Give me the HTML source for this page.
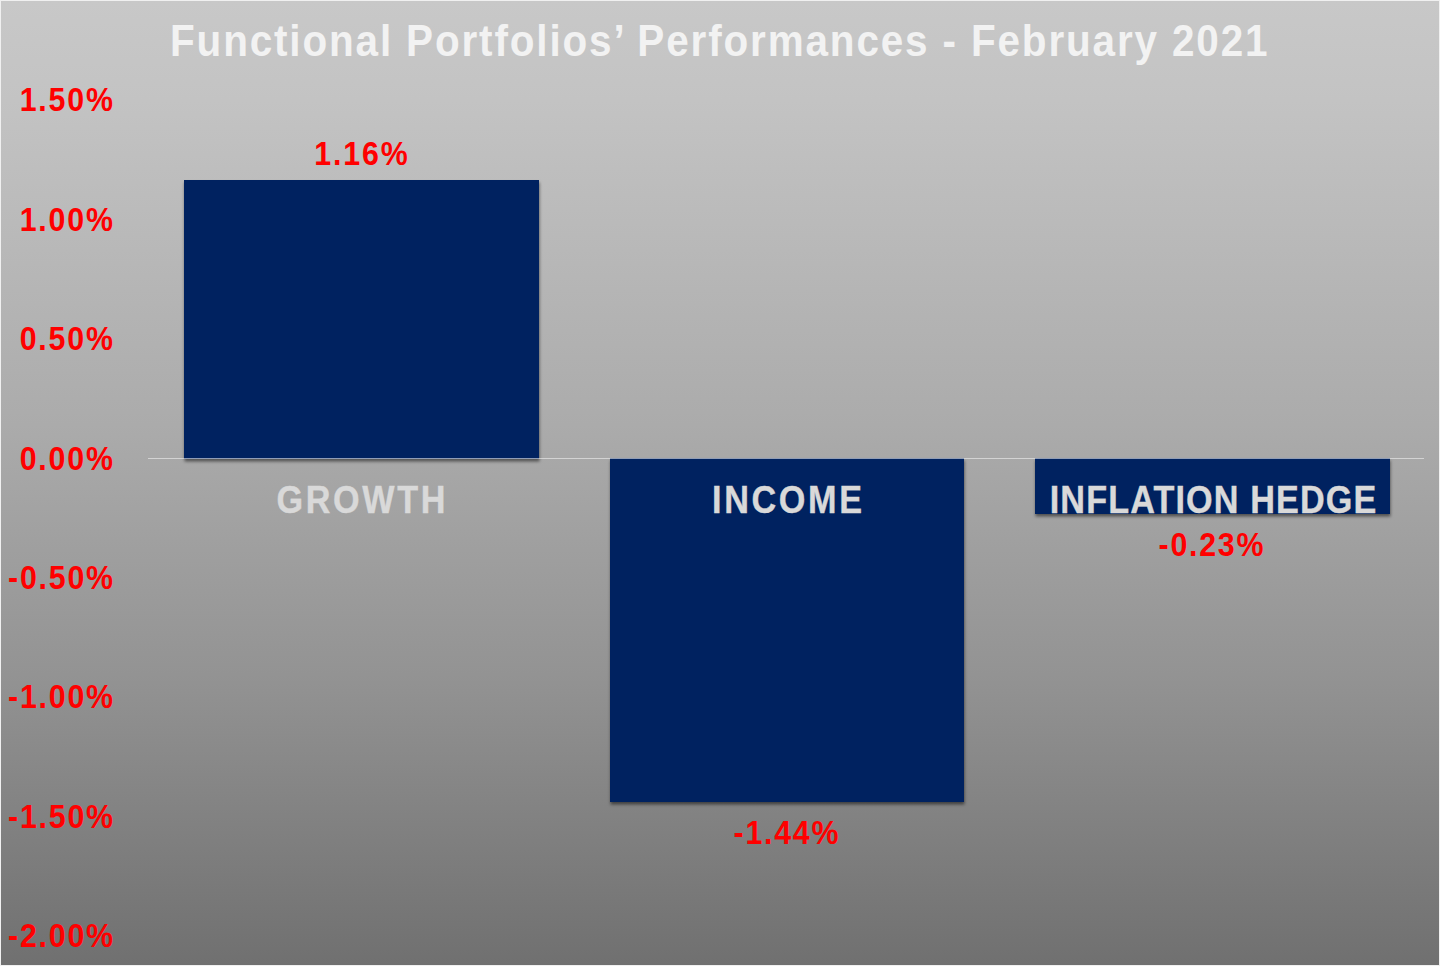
<!DOCTYPE html>
<html>
<head>
<meta charset="utf-8">
<style>
html,body{margin:0;padding:0;background:#ffffff;}
body{width:1440px;height:966px;overflow:hidden;}
svg{display:block;}
text{font-family:"Liberation Sans",sans-serif;font-weight:bold;}
</style>
</head>
<body>
<svg width="1440" height="966" viewBox="0 0 1440 966">
<defs>
<linearGradient id="bg" x1="0" y1="0" x2="0" y2="1">
<stop offset="0" stop-color="#c8c8c8"/>
<stop offset="0.1035" stop-color="#c3c3c3"/>
<stop offset="0.44" stop-color="#ababab"/>
<stop offset="0.699" stop-color="#939393"/>
<stop offset="0.9576" stop-color="#757575"/>
<stop offset="1" stop-color="#707070"/>
</linearGradient>
<filter id="sh" x="-10%" y="-10%" width="130%" height="130%">
<feDropShadow dx="0.5" dy="2.5" stdDeviation="1.5" flood-color="#000" flood-opacity="0.5"/>
</filter>
</defs>
<rect x="0" y="0" width="1440" height="966" fill="#f0f0f0"/>
<rect x="1" y="1" width="1438" height="964" fill="url(#bg)"/>

<!-- title -->
<text transform="translate(170,56) scale(0.92,1)" x="0" y="0" font-size="44" fill="#f2f2f2" textLength="1193" lengthAdjust="spacing">Functional Portfolios’ Performances - February 2021</text>

<!-- y axis labels -->
<g fill="#ff0000" font-size="33" text-anchor="end">
<text transform="translate(113,111) scale(0.92,1)" textLength="101.5" lengthAdjust="spacing">1.50%</text>
<text transform="translate(113,231) scale(0.92,1)" textLength="101.5" lengthAdjust="spacing">1.00%</text>
<text transform="translate(113,350) scale(0.92,1)" textLength="101.5" lengthAdjust="spacing">0.50%</text>
<text transform="translate(113,470) scale(0.92,1)" textLength="101.5" lengthAdjust="spacing">0.00%</text>
<text transform="translate(113,589) scale(0.92,1)" textLength="114" lengthAdjust="spacing">-0.50%</text>
<text transform="translate(113,708) scale(0.92,1)" textLength="114" lengthAdjust="spacing">-1.00%</text>
<text transform="translate(113,828) scale(0.92,1)" textLength="114" lengthAdjust="spacing">-1.50%</text>
<text transform="translate(113,947) scale(0.92,1)" textLength="114" lengthAdjust="spacing">-2.00%</text>
</g>


<!-- bars -->
<g fill="#002060" filter="url(#sh)">
<rect x="184" y="180" width="355" height="279"/>
<rect x="610" y="458" width="354" height="344"/>
<rect x="1035" y="458" width="355" height="56"/>
</g>

<!-- axis line -->
<rect x="148" y="458" width="1276" height="1" fill="#f0f0f0" fill-opacity="0.6"/>

<!-- category labels -->
<g fill="#d9d9d9" stroke="#d9d9d9" stroke-width="0.4" font-size="38" text-anchor="middle">
<text transform="translate(361,513) scale(0.9,1)" textLength="187.8" lengthAdjust="spacing">GROWTH</text>
<text transform="translate(787,513) scale(0.9,1)" textLength="166.7" lengthAdjust="spacing">INCOME</text>
<text transform="translate(1213,513) scale(0.9,1)" textLength="362.8" lengthAdjust="spacing">INFLATION HEDGE</text>
</g>

<!-- data labels -->
<g fill="#ff0000" font-size="33" text-anchor="middle">
<text transform="translate(361,165) scale(0.92,1)" textLength="101.5" lengthAdjust="spacing">1.16%</text>
<text transform="translate(786,843.5) scale(0.92,1)" textLength="114" lengthAdjust="spacing">-1.44%</text>
<text transform="translate(1211,556) scale(0.92,1)" textLength="114" lengthAdjust="spacing">-0.23%</text>
</g>
</svg>
</body>
</html>
